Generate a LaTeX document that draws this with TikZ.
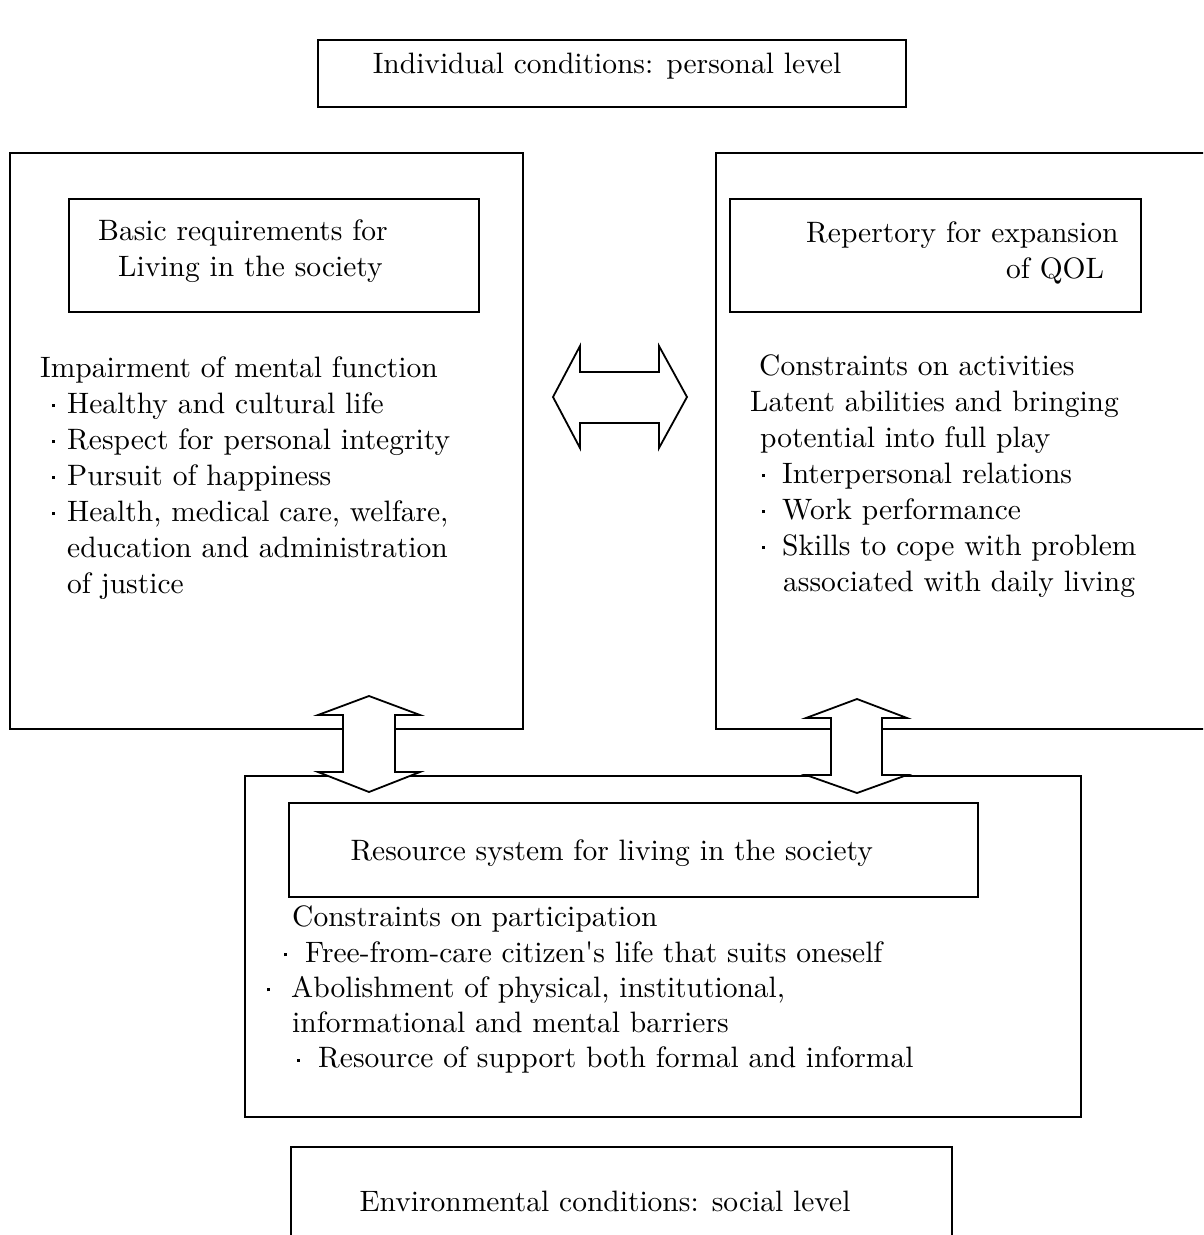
\documentclass[tikz,border=0pt]{standalone}
\usepackage{fontspec}
\setmainfont{lmroman10-regular.otf}
\usepackage{tikz}
\newcommand\bodyfont{\fontsize{29.5pt}{36pt}\selectfont}
\newcommand\bul[2]{\hspace*{#1}\makebox[0pt]{\raisebox{6pt}{\rule{3pt}{3pt}}}\hspace*{#2}}

\begin{document}
\begin{tikzpicture}[x=1pt,y=-1pt,font=\bodyfont,
frame/.style={draw,line width=1.6pt},
txt/.style={inner sep=0pt,align=left,anchor=north west},
fat/.style={draw,fill=white,line width=1.8pt,line join=miter}]

\useasboundingbox (0,0) rectangle (1203,1235);
\clip (0,0) rectangle (1203,1235);

% boxes
\draw[frame] (318,40) rectangle (906,107);
\draw[frame] (10,153) rectangle (523,729);
\draw[frame] (69,199) rectangle (479,312);
\draw[frame] (716,153) rectangle (1220,729);
\draw[frame] (730,199) rectangle (1141,312);
\draw[frame] (245,776) rectangle (1081,1117);
\draw[frame] (289,803) rectangle (978,897);
\draw[frame] (291,1250) -- (291,1147) -- (952,1147) -- (952,1250);

\node (indiv) at (607,73) [anchor=base] {Individual conditions: personal level};
\node (basic) at (98,214.8) [txt] {\strut Basic requirements for\\\hspace*{20pt}Living in the society};
\node (reper) at (806,217) [txt] {\strut Repertory for expansion\\\hspace*{200pt}of QOL};

\node (needs) at (40,351.8) [txt] {\strut Impairment of mental function\\
\bul{13pt}{14pt}Healthy and cultural life\\
\bul{13pt}{14pt}Respect for personal integrity\\
\bul{13pt}{14pt}Pursuit of happiness\\
\bul{13pt}{14pt}Health, medical care, welfare,\\
\hspace*{27pt}education and administration\\
\hspace*{27pt}of justice};

\node (abil) at (750,349.8) [txt] {\strut\hspace*{9pt}Constraints on activities\\
Latent abilities and bringing\\
\hspace*{10pt}potential into full play\\
\bul{13pt}{19pt}Interpersonal relations\\
\bul{13pt}{19pt}Work performance\\
\bul{13pt}{19pt}Skills to cope with problem\\
\hspace*{33pt}associated with daily living};

\node (resrc) at (347,860) [anchor=base west] {Resource system for living in the society};

\node (partic) at (268,901.8) [txt,font=\fontsize{29.5pt}{35.3pt}\selectfont] {\strut\hspace*{24pt}Constraints on participation\\
\bul{17pt}{20pt}Free-from-care citizen\textquotesingle s life that suits oneself\\
\bul{0pt}{23pt}Abolishment of physical, institutional,\\
\hspace*{24pt}informational and mental barriers\\
\bul{30pt}{20pt}Resource of support both formal and informal};

\node (envir) at (605,1211) [anchor=base] {Environmental conditions: social level};

% block arrows
\draw[fat] (553,397) -- (580,346) -- (580,372) -- (659,372) -- (659,346) -- (687,397)
  -- (659,448) -- (659,423) -- (580,423) -- (580,448) -- cycle;
\draw[fat] (369,696) -- (420,715) -- (395,715) -- (395,772) -- (420,772) -- (369,792)
  -- (318,772) -- (343,772) -- (343,715) -- (318,715) -- cycle;
\draw[fat] (857,699) -- (907,718) -- (882,718) -- (882,775) -- (907,775) -- (857,793)
  -- (806,775) -- (831,775) -- (831,718) -- (806,718) -- cycle;
\end{tikzpicture}
\end{document}
